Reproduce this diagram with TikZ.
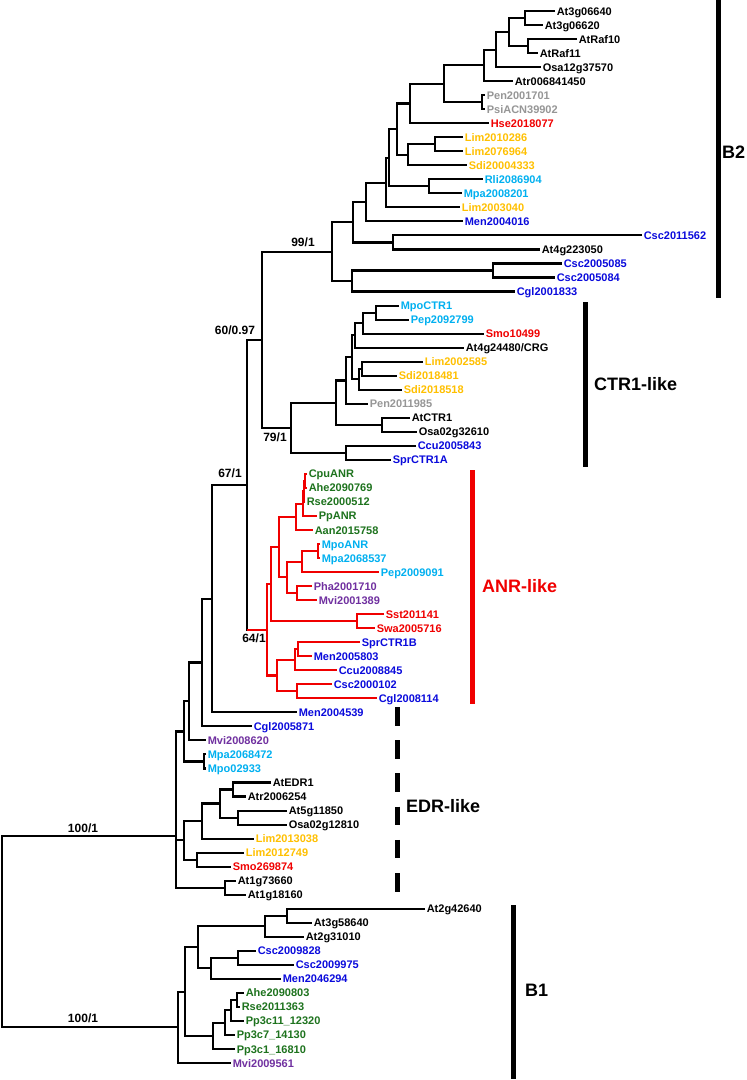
\documentclass[tikz,border=0pt]{standalone}
\usepackage{fontspec}
\setmainfont{Liberation Sans}
\usetikzlibrary{calc}
\definecolor{cgray}{RGB}{150,150,150}
\definecolor{cred}{RGB}{240,0,0}
\definecolor{cyel}{RGB}{255,192,0}
\definecolor{ccyan}{RGB}{0,176,240}
\definecolor{cblue}{RGB}{10,10,220}
\definecolor{cgreen}{RGB}{30,115,30}
\definecolor{cpurp}{RGB}{112,48,160}
\newcommand\mkleaf[5]{\coordinate (#1) at (#3,{11+14.027*#2}); \node[lab,text=#4] (#1t) at (#1) {#5};}
\newcommand\mknode[4]{\path let \p1=(#3),\p2=(#4) in (#2pt,{(\y1+\y2)/2}) coordinate (#1);}
\newcommand\jn[4][br]{\draw[#1] (#3) -| (#2) |- (#4);}
\begin{document}
\begin{tikzpicture}[x=1pt,y=-1pt,
  br/.style={line width=2.1pt,black},
  rbr/.style={line width=2.1pt,cred},
  lab/.style={anchor=west,inner sep=1.6pt,text height=8pt,text depth=0pt,font=\fontsize{11}{13}\selectfont\bfseries},
  boot/.style={inner sep=0pt,font=\fontsize{12}{14}\selectfont\bfseries},
  clade/.style={anchor=west,inner sep=0pt,font=\fontsize{18}{21}\selectfont\bfseries},
  bar/.style={line width=5pt}]
\useasboundingbox (0,0) rectangle (747,1080);
\fill[white] (0,0) rectangle (747,1080);
% ---------- leaves ----------
\mkleaf{l0}{0}{555}{black}{At3g06640}
\mkleaf{l1}{1}{543}{black}{At3g06620}
\mkleaf{l2}{2}{577}{black}{AtRaf10}
\mkleaf{l3}{3}{538}{black}{AtRaf11}
\mkleaf{l4}{4}{541}{black}{Osa12g37570}
\mkleaf{l5}{5}{513}{black}{Atr006841450}
\mkleaf{l6}{6}{485}{cgray}{Pen2001701}
\mkleaf{l7}{7}{485}{cgray}{PsiACN39902}
\mkleaf{l8}{8}{489}{cred}{Hse2018077}
\mkleaf{l9}{9}{463}{cyel}{Lim2010286}
\mkleaf{l10}{10}{463}{cyel}{Lim2076964}
\mkleaf{l11}{11}{467}{cyel}{Sdi20004333}
\mkleaf{l12}{12}{483}{ccyan}{Rli2086904}
\mkleaf{l13}{13}{462}{ccyan}{Mpa2008201}
\mkleaf{l14}{14}{460}{cyel}{Lim2003040}
\mkleaf{l15}{15}{463}{cblue}{Men2004016}
\mkleaf{l16}{16}{642}{cblue}{Csc2011562}
\mkleaf{l17}{17}{540}{black}{At4g223050}
\mkleaf{l18}{18}{562}{cblue}{Csc2005085}
\mkleaf{l19}{19}{555}{cblue}{Csc2005084}
\mkleaf{l20}{20}{515}{cblue}{Cgl2001833}
\mkleaf{l21}{21}{399}{ccyan}{MpoCTR1}
\mkleaf{l22}{22}{409}{ccyan}{Pep2092799}
\mkleaf{l23}{23}{484}{cred}{Smo10499}
\mkleaf{l24}{24}{464}{black}{At4g24480/CRG}
\mkleaf{l25}{25}{423}{cyel}{Lim2002585}
\mkleaf{l26}{26}{397}{cyel}{Sdi2018481}
\mkleaf{l27}{27}{402}{cyel}{Sdi2018518}
\mkleaf{l28}{28}{368}{cgray}{Pen2011985}
\mkleaf{l29}{29}{410}{black}{AtCTR1}
\mkleaf{l30}{30}{417}{black}{Osa02g32610}
\mkleaf{l31}{31}{416}{cblue}{Ccu2005843}
\mkleaf{l32}{32}{391}{cblue}{SprCTR1A}
\mkleaf{l33}{33}{307}{cgreen}{CpuANR}
\mkleaf{l34}{34}{307}{cgreen}{Ahe2090769}
\mkleaf{l35}{35}{305}{cgreen}{Rse2000512}
\mkleaf{l36}{36}{317}{cgreen}{PpANR}
\mkleaf{l37}{37}{313}{cgreen}{Aan2015758}
\mkleaf{l38}{38}{320}{ccyan}{MpoANR}
\mkleaf{l39}{39}{320}{ccyan}{Mpa2068537}
\mkleaf{l40}{40}{379}{ccyan}{Pep2009091}
\mkleaf{l41}{41}{312}{cpurp}{Pha2001710}
\mkleaf{l42}{42}{317}{cpurp}{Mvi2001389}
\mkleaf{l43}{43}{384}{cred}{Sst201141}
\mkleaf{l44}{44}{375}{cred}{Swa2005716}
\mkleaf{l45}{45}{360}{cblue}{SprCTR1B}
\mkleaf{l46}{46}{312}{cblue}{Men2005803}
\mkleaf{l47}{47}{337}{cblue}{Ccu2008845}
\mkleaf{l48}{48}{332}{cblue}{Csc2000102}
\mkleaf{l49}{49}{377}{cblue}{Cgl2008114}
\mkleaf{l50}{50}{297}{cblue}{Men2004539}
\mkleaf{l51}{51}{252}{cblue}{Cgl2005871}
\mkleaf{l52}{52}{206}{cpurp}{Mvi2008620}
\mkleaf{l53}{53}{206}{ccyan}{Mpa2068472}
\mkleaf{l54}{54}{206}{ccyan}{Mpo02933}
\mkleaf{l55}{55}{271}{black}{AtEDR1}
\mkleaf{l56}{56}{246}{black}{Atr2006254}
\mkleaf{l57}{57}{287}{black}{At5g11850}
\mkleaf{l58}{58}{287}{black}{Osa02g12810}
\mkleaf{l59}{59}{254}{cyel}{Lim2013038}
\mkleaf{l60}{60}{244}{cyel}{Lim2012749}
\mkleaf{l61}{61}{231}{cred}{Smo269874}
\mkleaf{l62}{62}{236}{black}{At1g73660}
\mkleaf{l63}{63}{246}{black}{At1g18160}
\mkleaf{l64}{64}{425}{black}{At2g42640}
\mkleaf{l65}{65}{312}{black}{At3g58640}
\mkleaf{l66}{66}{304}{black}{At2g31010}
\mkleaf{l67}{67}{256}{cblue}{Csc2009828}
\mkleaf{l68}{68}{294}{cblue}{Csc2009975}
\mkleaf{l69}{69}{281}{cblue}{Men2046294}
\mkleaf{l70}{70}{244}{cgreen}{Ahe2090803}
\mkleaf{l71}{71}{240}{cgreen}{Rse2011363}
\mkleaf{l72}{72}{244}{cgreen}{Pp3c11\_12320}
\mkleaf{l73}{73}{235}{cgreen}{Pp3c7\_14130}
\mkleaf{l74}{74}{235}{cgreen}{Pp3c1\_16810}
\mkleaf{l75}{75}{231}{cpurp}{Mvi2009561}
% ---------- internal nodes ----------
% B2
\mknode{na}{525}{l0}{l1}
\mknode{nb}{528}{l2}{l3}
\mknode{nc}{509}{na}{nb}
\mknode{nd}{496}{nc}{l4}
\mknode{ne}{484}{nd}{l5}
\mknode{nf}{482}{l6}{l7}
\mknode{ng}{444}{ne}{nf}
\mknode{nh}{410}{ng}{l8}
\mknode{ni}{435}{l9}{l10}
\mknode{nj}{408}{ni}{l11}
\mknode{nk}{429}{l12}{l13}
\mknode{pa}{397}{nh}{nj}
\mknode{pb}{389}{pa}{nk}
\mknode{pc}{386}{pb}{l14}
\mknode{pd}{366}{pc}{l15}
\mknode{qa}{393}{l16}{l17}
\mknode{pe}{353}{pd}{qa}
\mknode{qb}{493}{l18}{l19}
\mknode{qc}{352}{qb}{l20}
\mknode{pf}{332}{pe}{qc}
% CTR1
\mknode{cj}{376}{l21}{l22}
\mknode{ci}{363}{cj}{l23}
\mknode{ch}{355}{ci}{l24}
\mknode{cg}{362}{l25}{l26}
\mknode{cf}{359}{cg}{l27}
\mknode{ce}{352}{ch}{cf}
\mknode{cc}{346}{ce}{l28}
\mknode{cd}{382}{l29}{l30}
\mknode{ca}{336}{cc}{cd}
\mknode{cb}{346}{l31}{l32}
\mknode{croot}{291}{ca}{cb}
\mknode{ta}{262}{pf}{croot}
% ANR
\mknode{aa}{305}{l33}{l34}
\mknode{ab}{304}{aa}{l35}
\mknode{ac}{303}{ab}{l36}
\mknode{ad}{296}{ac}{l37}
\mknode{ae}{318}{l38}{l39}
\mknode{af}{302}{ae}{l40}
\mknode{ag}{297}{l41}{l42}
\mknode{ah}{287}{af}{ag}
\mknode{ai}{279}{ad}{ah}
\mknode{ss}{357}{l43}{l44}
\mknode{aj}{271}{ai}{ss}
\mknode{ak}{298}{l45}{l46}
\mknode{al}{295}{ak}{l47}
\mknode{am}{297}{l48}{l49}
\mknode{an}{277}{al}{am}
\mknode{aroot}{267}{aj}{an}
% upper backbone
\mknode{tb}{247}{ta}{aroot}
\mknode{tc}{212}{tb}{l50}
\mknode{td}{202}{tc}{l51}
\mknode{te}{189}{td}{l52}
\mknode{mm}{204}{l53}{l54}
\mknode{tf}{184}{te}{mm}
% EDR
\mknode{ea}{233}{l55}{l56}
\mknode{eb}{238}{l57}{l58}
\mknode{ec}{220}{ea}{eb}
\mknode{ed}{202}{ec}{l59}
\mknode{ee}{197}{l60}{l61}
\mknode{ef}{184}{ed}{ee}
\mknode{eg}{225}{l62}{l63}
\coordinate (X0) at (176,836);
% B1
\mknode{bf}{287}{l64}{l65}
\mknode{bd}{265}{bf}{l66}
\mknode{bg}{238}{l67}{l68}
\mknode{be}{211}{bg}{l69}
\mknode{bb}{198}{bd}{be}
\mknode{ma}{237}{l70}{l71}
\mknode{mb}{231}{ma}{l72}
\mknode{mc}{225}{mb}{l73}
\mknode{md}{213}{mc}{l74}
\mknode{ba}{185}{bb}{md}
\mknode{bz}{178}{ba}{l75}
\mknode{root}{2}{X0}{bz}
% ---------- connectors ----------
\jn{na}{l0}{l1}
\jn{nb}{l2}{l3}
\jn{nc}{na}{nb}
\jn{nd}{nc}{l4}
\jn{ne}{nd}{l5}
\jn{nf}{l6}{l7}
\jn{ng}{ne}{nf}
\jn{nh}{ng}{l8}
\jn{ni}{l9}{l10}
\jn{nj}{ni}{l11}
\jn{nk}{l12}{l13}
\jn{pa}{nh}{nj}
\jn{pb}{pa}{nk}
\jn{pc}{pb}{l14}
\jn{pd}{pc}{l15}
\jn{qa}{l16}{l17}
\jn{pe}{pd}{qa}
\jn{qb}{l18}{l19}
\jn{qc}{qb}{l20}
\jn{pf}{pe}{qc}
\jn{cj}{l21}{l22}
\jn{ci}{cj}{l23}
\jn{ch}{ci}{l24}
\jn{cg}{l25}{l26}
\jn{cf}{cg}{l27}
\jn{ce}{ch}{cf}
\jn{cc}{ce}{l28}
\jn{cd}{l29}{l30}
\jn{ca}{cc}{cd}
\jn{cb}{l31}{l32}
\jn{croot}{ca}{cb}
\jn{ta}{pf}{croot}
\jn[rbr]{aa}{l33}{l34}
\jn[rbr]{ab}{aa}{l35}
\jn[rbr]{ac}{ab}{l36}
\jn[rbr]{ad}{ac}{l37}
\jn[rbr]{ae}{l38}{l39}
\jn[rbr]{af}{ae}{l40}
\jn[rbr]{ag}{l41}{l42}
\jn[rbr]{ah}{af}{ag}
\jn[rbr]{ai}{ad}{ah}
\jn[rbr]{ss}{l43}{l44}
\jn[rbr]{aj}{ai}{ss}
\jn[rbr]{ak}{l45}{l46}
\jn[rbr]{al}{ak}{l47}
\jn[rbr]{am}{l48}{l49}
\jn[rbr]{an}{al}{am}
\jn[rbr]{aroot}{aj}{an}
\jn{tb}{ta}{aroot}
\draw[rbr] (tb |- aroot) -- (aroot);
\jn{tc}{tb}{l50}
\jn{td}{tc}{l51}
\jn{te}{td}{l52}
\jn{mm}{l53}{l54}
\jn{tf}{te}{mm}
\jn{ea}{l55}{l56}
\jn{eb}{l57}{l58}
\jn{ec}{ea}{eb}
\jn{ed}{ec}{l59}
\jn{ee}{l60}{l61}
\jn{ef}{ed}{ee}
\jn{eg}{l62}{l63}
\jn{X0}{tf}{eg}
\draw[br] (X0) |- (ef);
\jn{bf}{l64}{l65}
\jn{bd}{bf}{l66}
\jn{bg}{l67}{l68}
\jn{be}{bg}{l69}
\jn{bb}{bd}{be}
\jn{ma}{l70}{l71}
\jn{mb}{ma}{l72}
\jn{mc}{mb}{l73}
\jn{md}{mc}{l74}
\jn{ba}{bb}{md}
\jn{bz}{ba}{l75}
\jn{root}{X0}{bz}
% ---------- support values ----------
\node[boot] (s99) at (303,242) {99/1};
\node[boot] (s60) at (235,330) {60/0.97};
\node[boot] (s79) at (275,437) {79/1};
\node[boot] (s67) at (230,473) {67/1};
\node[boot] (s64) at (254,638) {64/1};
\node[boot] (s100a) at (83,828) {100/1};
\node[boot] (s100b) at (83,1018) {100/1};
% ---------- clade bars ----------
\coordinate (b2t) at (718,0);    \coordinate (b2b) at (718,298);
\coordinate (ctt) at (585,302);  \coordinate (ctb) at (585,467);
\coordinate (ant) at (472,470);  \coordinate (anb) at (472,704);
\coordinate (edt) at (397,707);  \coordinate (edb) at (397,893);
\coordinate (b1t) at (513,905);  \coordinate (b1b) at (513,1079);
\draw[bar] (b2t) -- (b2b);
\draw[bar] (ctt) -- (ctb);
\draw[bar,cred] (ant) -- (anb);
\draw[bar,dash pattern=on 18.6pt off 14.6pt] (edt) -- (edb);
\draw[bar] (b1t) -- (b1b);
\node[clade] (cB2) at (722,152) {B2};
\node[clade] (cCTR) at (594,384) {CTR1-like};
\node[clade,text=cred] (cANR) at (482,586) {ANR-like};
\node[clade] (cEDR) at (406,806) {EDR-like};
\node[clade] (cB1) at (525,990) {B1};
\end{tikzpicture}
\end{document}
